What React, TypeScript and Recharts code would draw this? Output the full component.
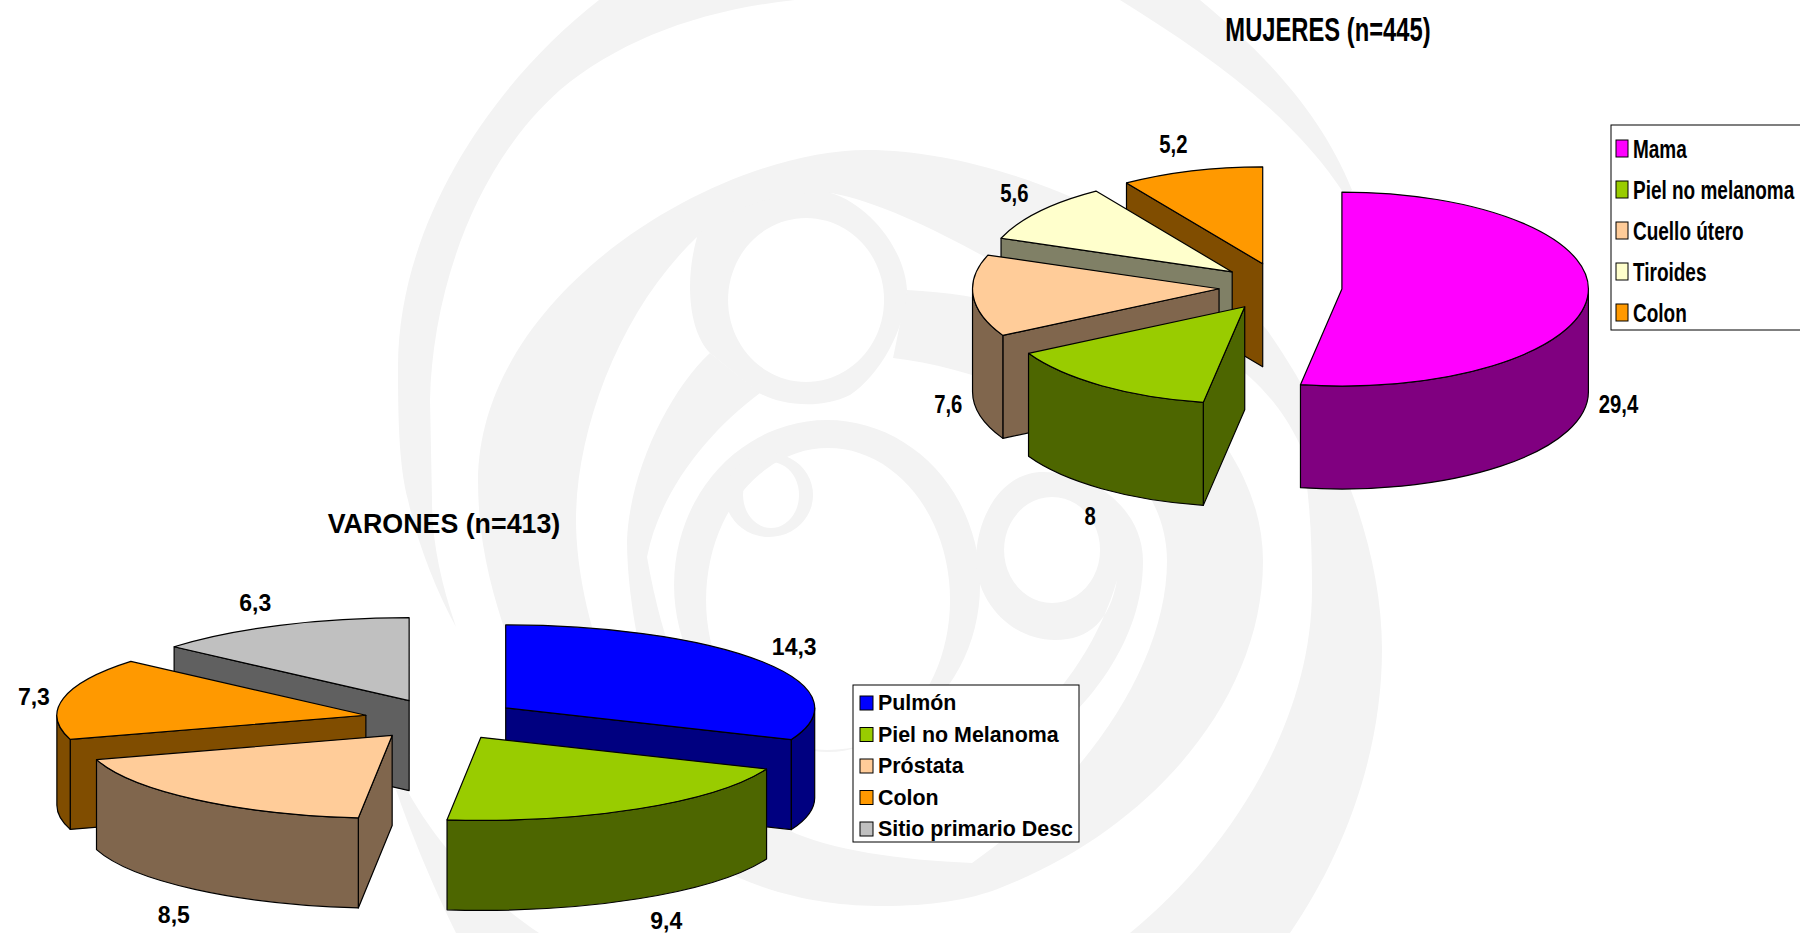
import { PieChart, Pie } from "recharts";

// Datos
const mujeresCategories = ["Mama", "Piel no melanoma", "Cuello útero", "Tiroides", "Colon"];
const mujeresValues = [29.4, 8, 7.6, 5.6, 5.2];
const mujeresColors = ["#FF00FF", "#99CC00", "#FFCC99", "#FFFFCC", "#FF9900"];

const varonesCategories = ["Pulmón", "Piel no Melanoma", "Próstata", "Colon", "Sitio primario Desc"];
const varonesValues = [14.3, 9.4, 8.5, 7.3, 6.3];
const varonesColors = ["#0000FF", "#99CC00", "#FFCC99", "#FF9900", "#C0C0C0"];

// small corrections to the computed label spots, same order as the categories
const mujeresNudges = [[6, 1], [3, 4], [0, 3], [-5, -1], [-11, 1]];
const varonesNudges = [[11, 1], [15, -3], [-5, 3], [-5, 5], [-14, 4]];

const FONT = "'Liberation Sans', Arial, sans-serif";
const EXPLODE = 0.25;

const rad = (deg: number) => (deg * Math.PI) / 180;

// half of each channel, like Excel's side walls
const darken = (hex: string) => {
  const n = parseInt(hex.slice(1), 16);
  const ch = (s: number) => Math.round(((n >> s) & 255) / 2);
  return `rgb(${ch(16)},${ch(8)},${ch(0)})`;
};

// Recharts angles are counter-clockwise from 3 o'clock, here clockwise from 12
const clockRange = (p: any) => {
  const a = 90 - Math.max(p.startAngle, p.endAngle);
  const b = 90 - Math.min(p.startAngle, p.endAngle);
  return { a, b, mid: (a + b) / 2 };
};

function makeSlice(ry: number, depth: number) {
  return function Slice3D(props: any) {
    const { cx, cy, outerRadius: rx, fill } = props;
    const { a, b, mid } = clockRange(props);
    const ax = cx + EXPLODE * rx * Math.sin(rad(mid));
    const ay = cy - EXPLODE * ry * Math.cos(rad(mid));
    const pt = (t: number) => [ax + rx * Math.sin(rad(t)), ay - ry * Math.cos(rad(t))];
    const side = darken(fill);

    const faces: string[] = [];
    [a, b].forEach((t) => {
      const dx = Math.sin(rad(t));
      const dy = -Math.cos(rad(t));
      const cross = dx * -Math.cos(rad(mid)) - dy * Math.sin(rad(mid));
      if (Math.abs(dx) > 0.001 && cross * dx < 0) {
        const [px, py] = pt(t);
        faces.push(`M${ax},${ay} L${px},${py} L${px},${py + depth} L${ax},${ay + depth} Z`);
      }
    });

    const walls: string[] = [];
    [-360, 0, 360].forEach((k) => {
      const lo = Math.max(a, 90 + k);
      const hi = Math.min(b, 270 + k);
      if (hi > lo) {
        const [x1, y1] = pt(lo);
        const [x2, y2] = pt(hi);
        walls.push(
          `M${x1},${y1} A${rx},${ry} 0 0 1 ${x2},${y2} L${x2},${y2 + depth} A${rx},${ry} 0 0 0 ${x1},${y1 + depth} Z`
        );
      }
    });

    const [sx, sy] = pt(a);
    const [ex, ey] = pt(b);
    const large = b - a > 180 ? 1 : 0;
    const top = `M${ax},${ay} L${sx},${sy} A${rx},${ry} 0 ${large} 1 ${ex},${ey} Z`;

    return (
      <g stroke="#000" strokeWidth={1.2} strokeLinejoin="round">
        {faces.map((d, i) => (
          <path key={`f${i}`} d={d} fill={side} />
        ))}
        {walls.map((d, i) => (
          <path key={`w${i}`} d={d} fill={side} />
        ))}
        <path d={top} fill={fill} />
      </g>
    );
  };
}

function makeLabel(
  ry: number,
  depth: number,
  fontSize: number,
  squeeze: number,
  categories: string[],
  nudges: number[][]
) {
  return function SliceLabel(props: any) {
    const { cx, cy, outerRadius: rx, value } = props;
    const { mid } = clockRange(props);
    const s = Math.sin(rad(mid));
    const c = Math.cos(rad(mid));
    const name = props.name ?? props.payload?.name;
    const [nx, ny] = nudges[categories.indexOf(name)] ?? [0, 0];
    const x = cx + EXPLODE * rx * s + (rx + 25) * s + nx;
    const y = cy - EXPLODE * ry * c - (ry + 29) * c + (c < 0 ? depth : 0) + ny;
    return (
      <text
        transform={`translate(${x},${y}) scale(${squeeze},1)`}
        textAnchor="middle"
        dominantBaseline="central"
        fontFamily={FONT}
        fontWeight="bold"
        fontSize={fontSize}
        fill="#000"
      >
        {String(value).replace(".", ",")}
      </text>
    );
  };
}

interface Pie3DProps {
  categories: string[];
  values: number[];
  colors: string[];
  nudges: number[][];
  cx: number;
  cy: number;
  rx: number;
  ry: number;
  depth: number;
  fontSize: number;
  squeeze: number;
}

function Pie3D({ categories, values, colors, nudges, cx, cy, rx, ry, depth, fontSize, squeeze }: Pie3DProps) {
  const rows = categories.map((name, i) => ({ name, value: values[i], fill: colors[i] }));
  // painter's order: first slice at the back, then the rest going counter-clockwise
  const ordered = [rows[0], ...rows.slice(1).reverse()];
  const total = values.reduce((acc, v) => acc + v, 0);
  const start = 90 - (values[0] / total) * 360;

  return (
    <div style={{ position: "absolute", left: 0, top: 0 }}>
      <PieChart width={1800} height={933} margin={{ top: 0, right: 0, bottom: 0, left: 0 }}>
        <Pie
          data={ordered}
          dataKey="value"
          nameKey="name"
          cx={cx}
          cy={cy}
          innerRadius={0}
          outerRadius={rx}
          startAngle={start}
          endAngle={start + 360}
          isAnimationActive={false}
          shape={makeSlice(ry, depth)}
          label={makeLabel(ry, depth, fontSize, squeeze, categories, nudges)}
          labelLine={false}
        />
      </PieChart>
    </div>
  );
}

function LegendBox({
  categories,
  colors,
  x,
  y,
  width,
  height,
  rowStart,
  rowStep,
  swatchX,
  swatchW,
  swatchH,
  textX,
  fontSize,
  squeeze,
}: any) {
  return (
    <g fontFamily={FONT} fontWeight="bold" fontSize={fontSize}>
      <rect x={x} y={y} width={width} height={height} fill="#fff" stroke="#000" strokeWidth={1} />
      {categories.map((name: string, i: number) => {
        const rowY = rowStart + i * rowStep;
        return (
          <g key={name}>
            <rect
              x={x + swatchX}
              y={rowY - swatchH / 2}
              width={swatchW}
              height={swatchH}
              fill={colors[i]}
              stroke="#000"
              strokeWidth={1}
            />
            <text
              transform={`translate(${x + textX},${rowY}) scale(${squeeze},1)`}
              dominantBaseline="central"
              fill="#000"
            >
              {name}
            </text>
          </g>
        );
      })}
    </g>
  );
}

// Marca de agua gris de fondo
function Watermark() {
  return (
    <g fill="#F3F3F3" fillRule="evenodd">
      {/* banda exterior izquierda */}
      <path d="M599,0 C490,85 398,225 398,367 C398,430 400,470 408,500 C418,545 436,590 456,627 C440,580 432,540 432,500 L430,400 C432,300 470,170 560,90 C620,40 700,10 795,0 Z" />
      <path d="M1120,0 C1200,50 1290,110 1345,195 L1352,190 C1320,110 1260,50 1200,0 Z" />
      <path d="M396,790 L407,790 C440,850 490,900 539,933 L456,933 C430,880 410,830 396,790 Z" />
      {/* espiral principal */}
      <path d="M1290,933 C1340,860 1382,760 1382,649 C1382,540 1330,420 1267,330 C1180,230 1000,150 867,150 C720,150 480,290 478,480 C478,560 500,620 530,700 L620,700 C590,640 576,570 576,520 C576,430 620,310 697,237 L831,193 C900,205 1000,265 1060,300 C1150,320 1250,340 1300,445 C1310,490 1312,540 1312,590 C1312,730 1220,860 1130,933 Z" />
      <path d="M710,353 C670,390 630,470 627,540 C627,650 680,820 737,877 C790,900 840,906 883,906 C930,906 970,900 1000,888 C1150,830 1263,700 1263,561 C1263,430 1120,300 907,290 L893,358 C1000,370 1167,440 1167,561 C1167,660 1090,780 972,863 C900,860 830,850 788,830 C720,770 670,690 647,557 C660,490 710,430 760,393 Z" />
      {/* anillos interiores */}
      <path d="M697,237 C685,280 688,330 710,353 L759,393 C780,405 820,410 850,395 C880,375 905,330 907,290 C905,250 870,205 831,193 C780,190 720,210 697,237 Z M806,218 a78,82 0 1,0 0.1,0 Z" />
      <path d="M827,420 a153,165 0 1,0 0.1,0 Z M828,448 a122,152 0 1,0 0.1,0 Z" />
      <path d="M769,453 a44,42 0 1,0 0.1,0 Z M771,462 a28,33 0 1,0 0.1,0 Z" />
      <path d="M1043,472 C1000,472 976,520 976,560 C976,600 1010,640 1055,640 C1090,640 1110,620 1117,580 C1100,640 1060,700 1000,750 L1020,760 C1090,710 1143,640 1143,561 C1143,510 1095,472 1043,472 Z M1052,497 a48,53 0 1,0 0.1,0 Z" />
    </g>
  );
}

export default function App() {
  return (
    <div style={{ position: "absolute", left: 0, top: 0, width: 1800, height: 933, overflow: "hidden", background: "#fff" }}>
      <svg width={1800} height={933} style={{ position: "absolute", left: 0, top: 0 }}>
        <Watermark />
      </svg>
      <Pie3D
        categories={varonesCategories}
        values={varonesValues}
        colors={varonesColors}
        nudges={varonesNudges}
        cx={441.5}
        cy={719.5}
        rx={309}
        ry={83}
        depth={90}
        fontSize={23}
        squeeze={1}
      />
      <Pie3D
        categories={mujeresCategories}
        values={mujeresValues}
        colors={mujeresColors}
        nudges={mujeresNudges}
        cx={1280.5}
        cy={287}
        rx={246.5}
        ry={97}
        depth={103}
        fontSize={26}
        squeeze={0.78}
      />
      <svg width={1800} height={933} style={{ position: "absolute", left: 0, top: 0 }}>
        <text x={444} y={524} textAnchor="middle" dominantBaseline="central" fontFamily={FONT} fontWeight="bold" fontSize={26.8} fill="#000">
          VARONES (n=413)
        </text>
        <text
          transform="translate(1328,30) scale(0.72,1)"
          textAnchor="middle"
          dominantBaseline="central"
          fontFamily={FONT}
          fontWeight="bold"
          fontSize={33}
          fill="#000"
        >
          MUJERES (n=445)
        </text>
        <LegendBox
          categories={varonesCategories}
          colors={varonesColors}
          x={853}
          y={685}
          width={226}
          height={157}
          rowStart={703}
          rowStep={31.5}
          swatchX={7}
          swatchW={13}
          swatchH={14}
          textX={25}
          fontSize={21.4}
          squeeze={1}
        />
        <LegendBox
          categories={mujeresCategories}
          colors={mujeresColors}
          x={1611}
          y={125}
          width={195}
          height={205}
          rowStart={148.5}
          rowStep={41}
          swatchX={5}
          swatchW={12}
          swatchH={17}
          textX={22}
          fontSize={26}
          squeeze={0.73}
        />
      </svg>
    </div>
  );
}
